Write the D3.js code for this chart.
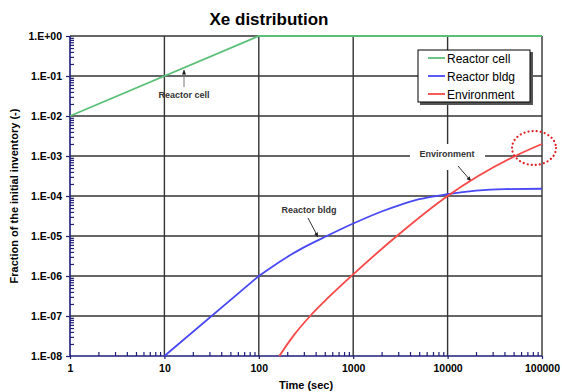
<!DOCTYPE html>
<html><head><meta charset="utf-8">
<script src="https://cdn.jsdelivr.net/npm/d3@7/dist/d3.min.js"></script>
<style>body{margin:0;background:#fff}svg{display:block}</style>
</head><body>
<svg id="c" width="562" height="392"></svg>
<script>
const xTickValues = [1, 10, 100, 1000, 10000, 100000];
const xTickLabels = ["1", "10", "100", "1000", "10000", "100000"];
const yTickValues = [1, 1e-1, 1e-2, 1e-3, 1e-4, 1e-5, 1e-6, 1e-7, 1e-8];
const yTickLabels = ["1.E+00","1.E-01","1.E-02","1.E-03","1.E-04","1.E-05","1.E-06","1.E-07","1.E-08"];

const seriesNames = ["Reactor cell", "Reactor bldg", "Environment"];
const reactorCellTime = [1, 100, 100000];
const reactorCellFrac = [0.01, 1, 1];
const reactorBldgTime = [10, 100, 200, 300, 525, 1000, 2000, 3162, 5000, 10000, 20000, 40000, 100000];
const reactorBldgFrac = [1e-8, 1e-6, 3e-6, 5.2e-6, 1e-5, 2.05e-5, 4.1e-5, 6e-5, 8.3e-5, 1.11e-4, 1.36e-4, 1.49e-4, 1.52e-4];
const environmentTime = [165, 230, 350, 550, 1000, 2900, 10000, 52000, 100000];
const environmentFrac = [1e-8, 3.1e-8, 1e-7, 2.95e-7, 1.1e-6, 1e-5, 1e-4, 1e-3, 2e-3];

const colors = ["#5cbf78", "#4848f5", "#f84848"];

const svg = d3.select("#c");
const L = 70, R = 542, T = 36, B = 356;
const x = d3.scaleLog().domain([1, 100000]).range([L, R]);
const y = d3.scaleLog().domain([1e-8, 1]).range([B, T]);

// grid
const g = svg.append("g");
g.selectAll("line.h").data(yTickValues.filter(v => v > 1e-8)).join("line")
  .attr("x1", L).attr("x2", R).attr("y1", d => y(d)).attr("y2", d => y(d))
  .attr("stroke", "#333").attr("stroke-width", 1.4);
g.selectAll("line.v").data(xTickValues.filter(v => v > 1)).join("line")
  .attr("x1", d => x(d)).attr("x2", d => x(d)).attr("y1", T).attr("y2", B)
  .attr("stroke", "#333").attr("stroke-width", 1.4);

// minor ticks
const minorX = [], minorY = [];
for (let e = 0; e < 5; e++) for (let m = 2; m <= 9; m++) minorX.push(m * Math.pow(10, e));
for (let e = -8; e < 0; e++) for (let m = 2; m <= 9; m++) minorY.push(m * Math.pow(10, e));

const axisColor = "#1e1e78";
const xMinor = svg.append("g").attr("transform", `translate(0,${B})`)
  .call(d3.axisBottom(x).tickValues(minorX).tickSize(-4).tickFormat(""));
const yMinor = svg.append("g").attr("transform", `translate(${L},0)`)
  .call(d3.axisLeft(y).tickValues(minorY).tickSize(-4).tickFormat(""));

const xAxis = svg.append("g").attr("transform", `translate(0,${B})`)
  .call(d3.axisBottom(x).tickValues(xTickValues).tickSize(3).tickPadding(6)
    .tickFormat((d, i) => xTickLabels[i]));
const yAxis = svg.append("g").attr("transform", `translate(${L},0)`)
  .call(d3.axisLeft(y).tickValues(yTickValues).tickSize(4).tickPadding(4)
    .tickFormat((d, i) => yTickLabels[i]));

[xMinor, yMinor, xAxis, yAxis].forEach(a => {
  a.selectAll("path").attr("stroke", axisColor).attr("stroke-width", 1.6);
  a.selectAll("line").attr("stroke", axisColor).attr("stroke-width", 1.2);
  a.selectAll("text").attr("font-family", "Liberation Sans, Arial, sans-serif")
    .attr("font-weight", "bold").attr("font-size", 10.5).attr("fill", "#000");
});
xAxis.select(".domain").attr("d", `M${L},0H${R}`);
yAxis.select(".domain").attr("d", `M0,${B}V${T}`);
xMinor.select(".domain").remove();
yMinor.select(".domain").remove();

// annotations
const ann = svg.append("g").attr("font-family", "Liberation Sans, Arial, sans-serif")
  .attr("font-size", 9).attr("font-weight", "bold").attr("fill", "#333");
svg.append("defs").append("marker").attr("id", "ah").attr("viewBox", "0 0 10 10")
  .attr("refX", 9).attr("refY", 5).attr("markerWidth", 5).attr("markerHeight", 5)
  .attr("orient", "auto").append("path").attr("d", "M0,1L10,5L0,9z").attr("fill", "#222");

ann.append("rect").attr("x", 410).attr("y", 144).attr("width", 75).attr("height", 26).attr("fill", "#fff");
ann.append("text").attr("x", 184).attr("y", 98).attr("text-anchor", "middle").text("Reactor cell");
ann.append("line").attr("x1", 184).attr("y1", 87).attr("x2", 184).attr("y2", 70)
  .attr("stroke", "#777").attr("stroke-width", 1).attr("marker-end", "url(#ah)");
ann.append("text").attr("x", 309).attr("y", 213).attr("text-anchor", "middle").text("Reactor bldg");
ann.append("line").attr("x1", 308).attr("y1", 218).attr("x2", 318).attr("y2", 237)
  .attr("stroke", "#333").attr("stroke-width", 1).attr("marker-end", "url(#ah)");
ann.append("text").attr("x", 447).attr("y", 157).attr("text-anchor", "middle").text("Environment");
ann.append("line").attr("x1", 458).attr("y1", 166).attr("x2", 471).attr("y2", 181)
  .attr("stroke", "#333").attr("stroke-width", 1).attr("marker-end", "url(#ah)");

// series
const smooth = d3.line().x(d => x(d[0])).y(d => y(d[1])).curve(d3.curveMonotoneX);
const straight = d3.line().x(d => x(d[0])).y(d => y(d[1]));
const series = [
  d3.zip(reactorCellTime, reactorCellFrac),
  d3.zip(reactorBldgTime, reactorBldgFrac),
  d3.zip(environmentTime, environmentFrac)
];
const lineG = svg.append("g");
series.forEach((s, i) => {
  let d;
  if (i === 1) {
    // straight 10 -> 100, smooth afterwards
    d = straight(s.slice(0, 2)) + smooth(s.slice(1)).replace(/^M/, "L");
  } else if (i === 0) d = straight(s);
  else d = smooth(s);
  lineG.append("path").attr("d", d)
    .attr("fill", "none").attr("stroke", colors[i]).attr("stroke-width", 1.8);
});

svg.append("ellipse").attr("cx", 534).attr("cy", 148).attr("rx", 22).attr("ry", 17)
  .attr("fill", "none").attr("stroke", "#e02020").attr("stroke-width", 2.2)
  .attr("stroke-dasharray", "0.1,4").attr("stroke-linecap", "round");

// legend
const lg = svg.append("g");
lg.append("rect").attr("x", 420).attr("y", 52).attr("width", 113).attr("height", 53).attr("fill", "#555");
lg.append("rect").attr("x", 418).attr("y", 50).attr("width", 112).attr("height", 52)
  .attr("fill", "#fff").attr("stroke", "#000").attr("stroke-width", 1);
seriesNames.forEach((n, i) => {
  const yy = 58 + i * 18;
  lg.append("line").attr("x1", 428).attr("x2", 445).attr("y1", yy).attr("y2", yy)
    .attr("stroke", colors[i]).attr("stroke-width", 1.8);
  lg.append("text").attr("x", 447).attr("y", yy + 4.5).text(n)
    .attr("font-family", "Liberation Sans, Arial, sans-serif").attr("font-size", 12).attr("fill", "#000");
});

// titles
svg.append("text").attr("x", 269).attr("y", 25).attr("text-anchor", "middle")
  .attr("font-family", "Liberation Sans, Arial, sans-serif").attr("font-weight", "bold")
  .attr("font-size", 17).text("Xe distribution");
svg.append("text").attr("x", 306).attr("y", 389).attr("text-anchor", "middle")
  .attr("font-family", "Liberation Sans, Arial, sans-serif").attr("font-weight", "bold")
  .attr("font-size", 11).text("Time (sec)");
svg.append("text").attr("transform", "translate(18,196) rotate(-90)").attr("text-anchor", "middle")
  .attr("font-family", "Liberation Sans, Arial, sans-serif").attr("font-weight", "bold")
  .attr("font-size", 11).text("Fraction of the initial inventory (-)");
</script>
</body></html>
